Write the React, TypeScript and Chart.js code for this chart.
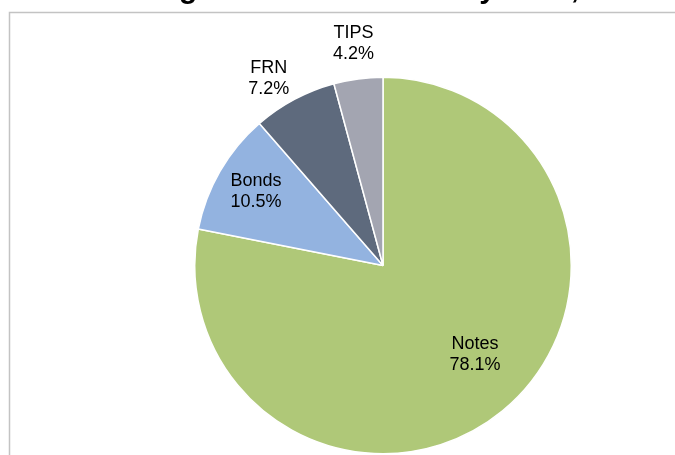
import React, { useEffect, useRef } from "react";
import { Chart, registerables } from "chart.js";

Chart.register(...registerables);

const titleText = "Outstanding Marketable Treasury Debt, 2015";
const categories = ["Notes", "Bonds", "FRN", "TIPS"];
const shares = [78.1, 10.5, 7.2, 4.2];
const colors = ["#afc878", "#93b3e0", "#5e6a7d", "#a3a5b1"];
const labelRadius = [0.68, 0.78, 1.165, 1.19];
const labelAngleShift = [-6.5, 0, -3.3, 0];

const FONT = "'Liberation Sans', Arial, sans-serif";

const framePlugin = {
  id: "framePlugin",
  beforeDraw(chart: any) {
    const ctx = chart.ctx;
    ctx.save();
    ctx.fillStyle = "#ffffff";
    ctx.fillRect(0, 0, chart.width, chart.height);
    ctx.strokeStyle = "#c3c3c3";
    ctx.lineWidth = 1.5;
    ctx.beginPath();
    ctx.moveTo(9.5, chart.height + 5);
    ctx.lineTo(9.5, 12.5);
    ctx.lineTo(chart.width + 5, 12.5);
    ctx.stroke();
    ctx.fillStyle = "#000000";
    ctx.font = `bold 30px ${FONT}`;
    ctx.textAlign = "center";
    ctx.textBaseline = "alphabetic";
    ctx.fillText(titleText, chart.width / 2, -2);
    ctx.restore();
  },
};

const labelPlugin = {
  id: "labelPlugin",
  afterDatasetsDraw(chart: any) {
    const ctx = chart.ctx;
    const meta = chart.getDatasetMeta(0);
    ctx.save();
    ctx.fillStyle = "#000000";
    ctx.font = `18px ${FONT}`;
    ctx.textAlign = "center";
    ctx.textBaseline = "middle";
    meta.data.forEach((arc: any, i: number) => {
      const { x, y, startAngle, endAngle, outerRadius } = arc.getProps(
        ["x", "y", "startAngle", "endAngle", "outerRadius"],
        true
      );
      const mid = (startAngle + endAngle) / 2 + (labelAngleShift[i] * Math.PI) / 180;
      const r = outerRadius * labelRadius[i];
      const cx = x + Math.cos(mid) * r;
      const cy = y + Math.sin(mid) * r;
      ctx.fillText(categories[i], cx, cy - 10.5);
      ctx.fillText(shares[i].toFixed(1) + "%", cx, cy + 10.5);
    });
    ctx.restore();
  },
};

export default function App() {
  const ref = useRef<HTMLCanvasElement | null>(null);
  useEffect(() => {
    if (!ref.current) return;
    const chart = new Chart(ref.current, {
      type: "pie",
      data: {
        labels: categories,
        datasets: [
          {
            data: shares,
            backgroundColor: colors,
            borderColor: "#ffffff",
            borderWidth: 1.5,
          },
        ],
      },
      options: {
        responsive: false,
        animation: false,
        layout: { padding: { top: 76, bottom: 0, left: 194, right: 103 } },
        plugins: {
          legend: { display: false },
          tooltip: { enabled: false },
          title: { display: false },
        },
      },
      plugins: [framePlugin, labelPlugin],
    });
    return () => chart.destroy();
  }, []);
  return (
    <canvas
      ref={ref}
      width={675}
      height={455}
      style={{ position: "fixed", left: 0, top: 0, width: 675, height: 455 }}
    />
  );
}
